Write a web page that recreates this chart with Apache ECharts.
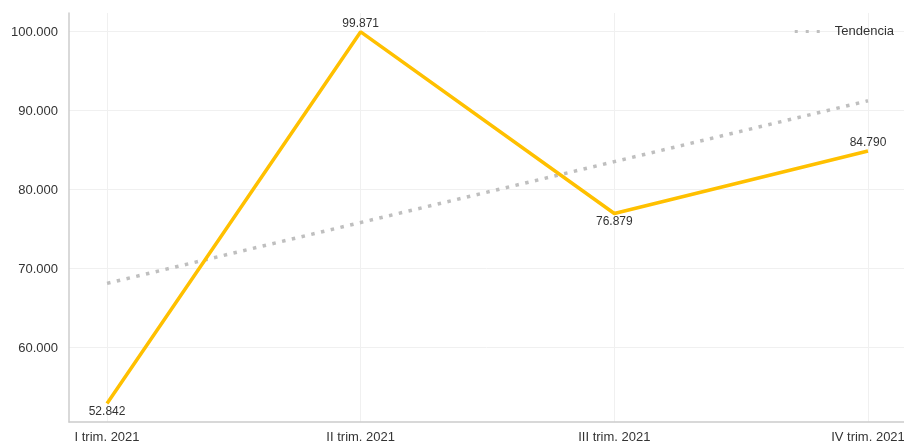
<!DOCTYPE html>
<html>
<head>
<meta charset="utf-8">
<script src="https://cdn.jsdelivr.net/npm/echarts@6/dist/echarts.min.js"></script>
<style>
  html, body { margin: 0; padding: 0; background: #fff; }
  #chart { width: 904px; height: 444px; }
</style>
</head>
<body>
<div id="chart"></div>
<script>
const categories = ['I trim. 2021', 'II trim. 2021', 'III trim. 2021', 'IV trim. 2021']
const values = [52842, 99871, 76879, 84790]
const trend = [68040, 75740, 83440, 91140]
const yTicks = [60000, 70000, 80000, 90000, 100000]
const labelPos = ['bottom', 'top', 'bottom', 'top']

const fmt = v => Math.round(v).toString().replace(/\B(?=(\d{3})+(?!\d))/g, '.')
const xPos = categories.map((c, i) => i + 1)

const chart = echarts.init(document.getElementById('chart'))

chart.setOption({
  animation: false,
  textStyle: { fontFamily: 'Liberation Sans, Arial, sans-serif' },
  grid: { left: 69, right: 0, top: 13, bottom: 22, outerBoundsMode: 'none' },
  legend: {
    right: 5,
    top: 20,
    itemWidth: 25,
    itemHeight: 4,
    data: [{
      name: 'Tendencia',
      icon: 'path://M0,0h3v3h-3z M11,0h3v3h-3z M22,0h3v3h-3z',
      itemStyle: { color: '#BFBFBF' }
    }],
    textStyle: { fontSize: 13, color: '#333', padding: [0, 0, 0, 10] }
  },
  xAxis: {
    type: 'value',
    min: 0.85,
    max: 4.142,
    axisLine: { show: true, lineStyle: { color: '#cccccc', width: 1.5 } },
    axisTick: { show: false, customValues: xPos },
    axisLabel: {
      customValues: xPos,
      margin: 9,
      fontSize: 13,
      color: '#333',
      formatter: v => categories[Math.round(v) - 1] || ''
    },
    splitLine: { show: true, lineStyle: { color: '#f0f0f0' } }
  },
  yAxis: {
    type: 'value',
    min: 50500,
    max: 102250,
    axisLine: { show: true, lineStyle: { color: '#cccccc', width: 1.5 } },
    axisTick: { show: false, customValues: yTicks },
    axisLabel: {
      customValues: yTicks,
      margin: 11,
      formatter: v => '{v|' + fmt(v) + '}',
      rich: {
        v: { fontSize: 13, color: '#333', padding: [4, 0, 0, 0] }
      }
    },
    splitLine: { show: true, lineStyle: { color: '#f0f0f0' } }
  },
  series: [
    {
      name: 'Valor',
      type: 'line',
      data: values.map((v, i) => ({
        value: [xPos[i], v],
        label: { position: labelPos[i] }
      })),
      symbol: 'circle',
      symbolSize: 0,
      showSymbol: true,
      lineStyle: { color: '#FFC000', width: 3.5 },
      itemStyle: { color: '#FFC000' },
      label: {
        show: true,
        fontSize: 12,
        color: '#333',
        distance: 2,
        formatter: p => fmt(p.value[1])
      },
      z: 3
    },
    {
      name: 'Tendencia',
      type: 'line',
      data: trend.map((v, i) => [xPos[i], v]),
      symbol: 'none',
      lineStyle: { color: '#BFBFBF', width: 3.5, type: [3.5, 6.5] },
      itemStyle: { color: '#BFBFBF' },
      z: 2
    }
  ]
})
</script>
</body>
</html>
